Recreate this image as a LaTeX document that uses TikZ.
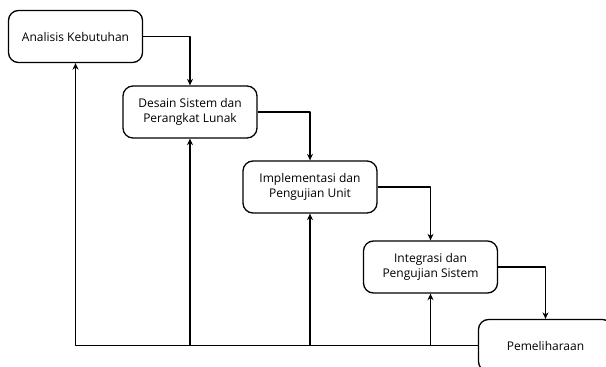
\documentclass[tikz,border=0pt]{standalone}
\usepackage{fontspec}
\setmainfont{Open Sans}
\usetikzlibrary{arrows.meta}
\begin{document}
\begin{tikzpicture}[x=1pt,y=-1pt,>={Stealth[length=6.5pt,width=6pt]}, font=\fontsize{12}{15}\selectfont, line join=round]
	\tikzset{tahap/.style={draw, line width=1.3pt, rounded corners=10pt, minimum width=134pt, minimum height=52pt, align=center, inner sep=2pt},
		alur/.style={->, line width=1.2pt}}
	\useasboundingbox (0,0) rectangle (606,367);
	\clip (0,0) rectangle (606,367);
			\node[tahap] (anal) at (75.5,36.5) {Analisis Kebutuhan};
			\node[tahap] (desain) at (190,112) {Desain Sistem dan\\Perangkat Lunak};
			\node[tahap] (impl) at (310,187) {Implementasi dan\\Pengujian Unit};
			\node[tahap] (integ) at (430.5,267) {Integrasi dan\\Pengujian Sistem};
			\node[tahap] (pemel) at (545.5,345.5) {Pemeliharaan};
			% alur turun
			\draw[alur] (anal.east) -| (desain.north);
			\draw[alur] (desain.east) -| (impl.north);
			\draw[alur] (impl.east) -| (integ.north);
			\draw[alur] (integ.east) -| (pemel.north);
			% umpan balik
			\coordinate (dasar) at (75.5,345.5);
			\draw[alur] (pemel.west) -- (dasar) -- (anal.south);
			\draw[alur] (desain.south |- dasar) -- (desain.south);
			\draw[alur] (impl.south |- dasar) -- (impl.south);
			\draw[alur] (integ.south |- dasar) -- (integ.south);
\end{tikzpicture}
\end{document}
